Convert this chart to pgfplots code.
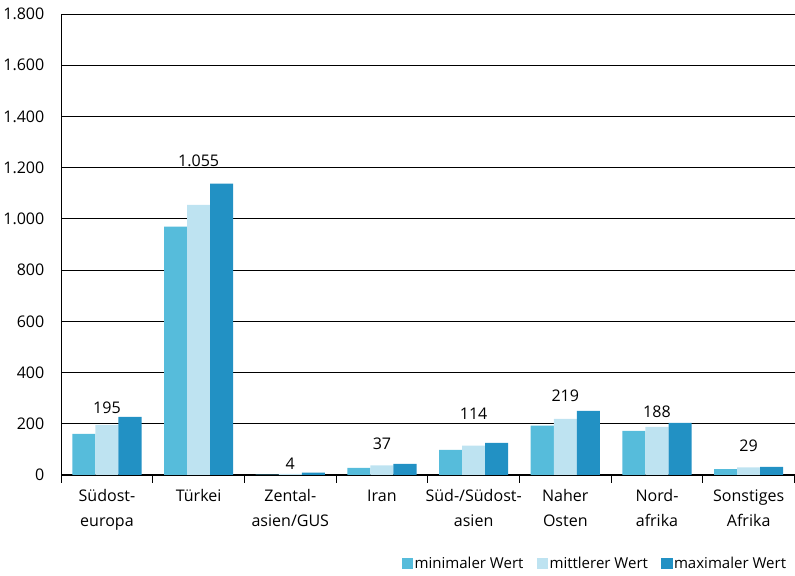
\documentclass[border=0pt]{standalone}
\usepackage{fontspec}
\setmainfont{Open Sans}
\usepackage{pgfplots}
\pgfplotsset{compat=1.18}
\definecolor{cmin}{HTML}{56BCDB}
\definecolor{cmid}{HTML}{BEE3F1}
\definecolor{cmax}{HTML}{2291C4}
\begin{document}
\begin{tikzpicture}[font=\fontsize{16}{25}\selectfont]
  \begin{axis}[
    scale only axis,
    width=732pt, height=460pt,
    xmin=0.5, xmax=8.5, ymin=0, ymax=1800,
    clip=false,
    axis lines=left,
    axis line style={-, line width=1pt},
    ytick={0,200,...,1800},
    ymajorgrids,
    grid style={black, line width=0.8pt},
    major tick style={draw=none},
    xtick={1,...,8},
    xticklabels={{Südost-\\europa},{Türkei},{Zental-\\asien/GUS},{Iran},{Süd-/Südost-\\asien},{Naher\\Osten},{Nord-\\afrika},{Sonstiges\\Afrika}},
    xticklabel style={align=center, yshift=-7pt},
    minor xtick={0.5,1.5,...,8.5},
    minor tick length=8pt,
    minor x tick style={black, line width=1pt},
    tick align=outside,
    yticklabel style={xshift=-9pt},
    scaled y ticks=false,
    /pgf/number format/.cd, 1000 sep={.}, assume math mode=true,
    /pgfplots/.cd,
    legend columns=3,
    legend style={draw=none, fill=none, at={(0.995,-0.193)}, anchor=east,
      font=\fontsize{15}{18}\selectfont,
      /tikz/every even column/.append style={column sep=12pt},
      nodes={inner sep=1.5pt}},
    legend image code/.code={\fill[#1] (0pt,-5pt) rectangle (11pt,6pt);},
  ]
    \addplot[ybar, bar width=23pt, bar shift=-23pt, fill=cmin, draw=none]
      coordinates {(1,160) (2,970) (3,1) (4,27) (5,98) (6,192) (7,172) (8,23)};
    \addplot[ybar, bar width=23pt, bar shift=0pt, fill=cmid, draw=none]
      coordinates {(1,195) (2,1055) (3,4) (4,37) (5,114) (6,219) (7,188) (8,29)};
    \addplot[ybar, bar width=23pt, bar shift=23pt, fill=cmax, draw=none]
      coordinates {(1,227) (2,1138) (3,9) (4,43) (5,125) (6,250) (7,203) (8,31)};
    \addplot[only marks, mark=none, forget plot,
      nodes near coords, point meta=explicit symbolic,
      nodes near coords style={anchor=center, text=black}]
      table[meta=l, row sep=\\] {
        x y l\\
        1 262 195\\
        2 1228 1.055\\
        3 43 4\\
        4 121 37\\
        5 239 114\\
        6 309 219\\
        7 247 188\\
        8 113 29\\
      };
    \legend{minimaler Wert, mittlerer Wert, maximaler Wert}
    \path (rel axis cs:0,1) ++(0,14pt);
    \path (rel axis cs:1,0) ++(0,-100pt);
  \end{axis}
\end{tikzpicture}
\end{document}
